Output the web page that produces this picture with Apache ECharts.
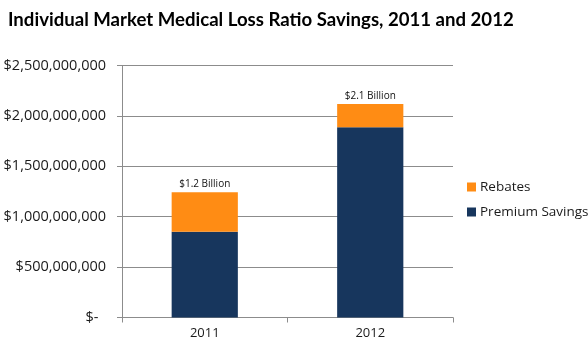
<!DOCTYPE html>
<html>
<head>
<meta charset="utf-8">
<script src="https://cdn.jsdelivr.net/npm/echarts@6/dist/echarts.min.js"></script>
<style>
  html, body { margin: 0; padding: 0; background: #ffffff; }
  #chart { width: 588px; height: 349px; }
</style>
</head>
<body>
<div id="chart"></div>
<script>
// Individual market MLR savings, in dollars
const years = ['2011', '2012'];
const premiumSavings = [851000000, 1887000000];
const rebates = [391000000, 231000000];
const yTicks = [0, 500000000, 1000000000, 1500000000, 2000000000, 2500000000];

const totals = years.map((_, i) => premiumSavings[i] + rebates[i]);
const FONT = '"Open Sans", sans-serif';

function dollars(v) {
  if (v === 0) return '$-  ';
  return '$' + v.toLocaleString('en-US');
}

const chart = echarts.init(document.getElementById('chart'), null, { renderer: 'canvas' });
chart.setOption({
  animation: false,
  backgroundColor: '#ffffff',
  title: {
    text: 'Individual Market Medical Loss Ratio Savings, 2011 and 2012',
    left: 3,
    top: 5,
    textStyle: { fontFamily: 'Lato, sans-serif', fontWeight: 'bold', fontSize: 18.6, color: '#000000' }
  },
  legend: {
    orient: 'vertical',
    left: 462,
    top: 175,
    itemWidth: 9,
    itemHeight: 9,
    itemGap: 11,
    icon: 'rect',
    data: ['Rebates', 'Premium Savings'],
    textStyle: { fontFamily: FONT, fontSize: 13.5, color: '#1a1a1a', padding: [0, 0, 0, -1] }
  },
  grid: { left: 122, right: 135, top: 65.5, bottom: 31.5, containLabel: false },
  xAxis: {
    type: 'category',
    data: years,
    axisLine: { lineStyle: { color: '#8c8c8c', width: 1 } },
    axisTick: { show: true, length: 5, lineStyle: { color: '#8c8c8c' } },
    axisLabel: { fontFamily: FONT, fontSize: 13, color: '#1a1a1a', margin: 9 }
  },
  yAxis: {
    type: 'value',
    min: yTicks[0],
    max: yTicks[yTicks.length - 1],
    interval: yTicks[1] - yTicks[0],
    axisLine: { show: true, lineStyle: { color: '#8c8c8c', width: 1 } },
    axisTick: { show: true, length: 5, lineStyle: { color: '#8c8c8c' } },
    splitLine: { lineStyle: { color: '#8c8c8c', width: 1 } },
    axisLabel: { fontFamily: FONT, fontSize: 14.5, color: '#1a1a1a', margin: 16, formatter: dollars }
  },
  series: [
    {
      name: 'Premium Savings',
      type: 'bar',
      stack: 'total',
      data: premiumSavings,
      barWidth: '40%',
      itemStyle: { color: '#17365d' }
    },
    {
      name: 'Rebates',
      type: 'bar',
      stack: 'total',
      data: rebates,
      barWidth: '40%',
      itemStyle: { color: '#ff8c14' },
      label: {
        show: true,
        position: 'top',
        distance: 3,
        fontFamily: FONT,
        fontSize: 10,
        color: '#111111',
        formatter: p => '$' + (totals[p.dataIndex] / 1e9).toFixed(1) + ' Billion'
      }
    }
  ]
});
</script>
</body>
</html>
